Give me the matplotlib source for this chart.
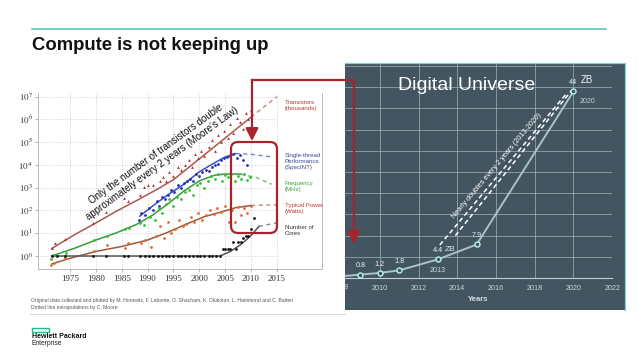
import numpy as np
import matplotlib
matplotlib.use("Agg")
import matplotlib.pyplot as plt
from matplotlib.patches import FancyBboxPatch, FancyArrowPatch, Rectangle
from matplotlib.lines import Line2D
from matplotlib.transforms import IdentityTransform, Bbox, TransformedBbox

plt.rcParams['font.family'] = ['Liberation Sans', 'DejaVu Sans']
plt.rcParams['mathtext.fontset'] = 'stix'

# ---------------- data : Moore's law chart (values as log10) ----------------
trans_yr = [1971.5, 1972.2, 1974.0, 1979.5, 1982.0, 1985.5, 1986.2, 1988.5, 1989.3, 1990.0,
            1991.0, 1992.4, 1993.0, 1993.5, 1994.2, 1995.0, 1995.8, 1996.5, 1997.3, 1998.0,
            1998.6, 1999.2, 1999.8, 2000.4, 2001.0, 2001.8, 2002.5, 2003.0, 2003.6, 2004.2,
            2004.8, 2005.5, 2006.0, 2006.6, 2007.2, 2007.8, 2008.4, 2009.0, 2009.5, 2010.0]
trans_lg = [0.35, 0.55, 0.75, 1.45, 1.95, 2.55, 2.4, 2.7, 3.05, 3.1,
            3.1, 3.3, 3.45, 3.3, 3.7, 3.5, 3.9, 3.8, 4.0, 4.2,
            3.9, 4.5, 4.3, 4.6, 4.4, 4.8, 5.1, 4.6, 5.3, 5.0,
            5.5, 5.2, 5.8, 5.4, 6.05, 5.9, 5.6, 6.3, 6.0, 6.4]

spec_yr = [1988.3, 1988.8, 1989.5, 1990.2, 1991.0, 1991.8, 1992.3, 1992.8, 1993.4, 1994.0,
           1994.6, 1995.2, 1995.8, 1996.4, 1997.0, 1997.6, 1998.2, 1998.8, 1999.4, 2000.0,
           2000.6, 2001.2, 2001.8, 2002.4, 2003.0, 2003.6, 2004.2, 2004.8, 2005.4, 2006.0,
           2006.6, 2007.2, 2007.8, 2008.5, 2009.2]
spec_lg = [1.6, 1.9, 1.8, 2.1, 2.0, 2.4, 2.2, 2.6, 2.5, 2.7,
           2.9, 2.8, 3.1, 3.0, 3.2, 3.3, 3.4, 3.3, 3.6, 3.5,
           3.7, 3.8, 3.75, 3.9, 4.0, 4.05, 4.2, 4.3, 4.35, 4.4,
           4.5, 4.3, 4.45, 4.2, 4.0]

freq_yr = [1971.3, 1971.8, 1974.2, 1979.6, 1982.2, 1985.6, 1986.4, 1988.6, 1989.4, 1990.4,
           1991.5, 1992.2, 1992.8, 1993.5, 1994.2, 1995.0, 1995.7, 1996.5, 1997.2, 1998.0,
           1998.7, 1999.5, 2000.2, 2000.9, 2001.6, 2002.3, 2003.0, 2003.7, 2004.4, 2005.0,
           2005.6, 2006.2, 2006.8, 2007.4, 2008.0, 2008.6, 2009.2, 2009.8]
freq_lg = [-0.15, 0.05, 0.15, 0.72, 0.9, 1.2, 1.22, 1.45, 1.35, 1.7,
           1.6, 2.1, 1.9, 2.3, 2.5, 2.2, 2.6, 2.5, 2.8, 2.9,
           2.7, 3.1, 3.2, 3.0, 3.3, 3.5, 3.4, 3.6, 3.3, 3.55,
           3.45, 3.6, 3.3, 3.5, 3.4, 3.6, 3.35, 3.45]

power_yr = [1971.4, 1972.0, 1974.1, 1979.7, 1982.1, 1985.7, 1986.3, 1988.7, 1989.6, 1990.6,
            1991.6, 1992.4, 1993.2, 1993.9, 1994.5, 1995.3, 1996.0, 1996.8, 1997.5, 1998.3,
            1999.0, 1999.8, 2000.5, 2001.2, 2002.0, 2002.8, 2003.5, 2004.2, 2005.0, 2005.7,
            2006.4, 2006.9, 2007.5, 2008.1, 2008.7, 2009.3, 2009.9]
power_lg = [-0.4, -0.3, -0.1, 0.2, 0.5, 0.35, 0.55, 0.55, 0.7, 0.4,
            0.9, 1.3, 0.8, 1.5, 1.0, 1.2, 1.6, 1.3, 1.4, 1.7,
            1.5, 1.9, 1.6, 1.8, 2.0, 1.85, 2.1, 1.95, 2.2, 1.5,
            2.0, 1.5, 2.15, 1.8, 2.1, 1.9, 2.2]

cores_yr = [1971.5, 1972.5, 1974.0, 1979.5, 1982.0, 1985.5, 1986.2, 1988.5, 1989.5, 1990.3,
            1991.0, 1992.0, 1992.7, 1993.5, 1994.2, 1995.0, 1995.8, 1996.5, 1997.3, 1998.0,
            1998.8, 1999.5, 2000.2, 2001.0, 2001.8, 2002.5, 2003.3, 2004.0, 2004.5, 2005.0,
            2005.5, 2006.0, 2006.5, 2007.0, 2007.5, 2008.0, 2008.5, 2009.0, 2009.5, 2010.0, 2010.5]
cores_lg = [0, 0, 0, 0, 0, 0, 0, 0, 0, 0,
            0, 0, 0, 0, 0, 0, 0, 0, 0, 0,
            0, 0, 0, 0, 0, 0, 0, 0, 0.3, 0.3,
            0.3, 0.3, 0.6, 0.3, 0.6, 0.6, 0.78, 0.9, 0.9, 1.2, 1.65]

# trend lines (solid part, then dotted extrapolation)
t_fit_yr = [1971.5, 1976, 1980, 1984, 1988, 1992, 1995, 1998, 2001, 2004, 2007, 2010]
t_fit_lg = [0.33, 0.95, 1.45, 1.97, 2.45, 2.95, 3.35, 3.9, 4.45, 5.0, 5.55, 6.1]
t_ext_yr, t_ext_lg = [2010, 2015], [6.1, 7.0]
s_fit_yr = [1988.5, 1991, 1994, 1997, 2000, 2003, 2005, 2007]
s_fit_lg = [1.75, 2.2, 2.7, 3.15, 3.7, 4.1, 4.35, 4.5]
s_ext_yr, s_ext_lg = [2007, 2010, 2014], [4.5, 4.47, 4.35]
f_fit_yr = [1971.5, 1976, 1980, 1984, 1988, 1991, 1994, 1997, 2000, 2003, 2005, 2008]
f_fit_lg = [0.0, 0.35, 0.7, 1.02, 1.4, 1.8, 2.3, 2.85, 3.3, 3.55, 3.6, 3.6]
f_ext_yr, f_ext_lg = [2008, 2011, 2014], [3.6, 3.45, 3.15]
p_fit_yr = [1971.5, 1975, 1980, 1985, 1990, 1994, 1998, 2001, 2004, 2007, 2010]
p_fit_lg = [-0.35, -0.1, 0.2, 0.42, 0.7, 1.05, 1.45, 1.73, 1.92, 2.12, 2.22]
p_ext_yr, p_ext_lg = [2010, 2015], [2.22, 2.25]
c_fit_yr = [1971.5, 2004, 2006, 2008, 2010, 2011.5]
c_fit_lg = [0, 0, 0.2, 0.5, 0.9, 1.3]
c_ext_yr, c_ext_lg = [2011.5, 2015], [1.3, 1.46]

# ---------------- data : Digital Universe ----------------
du_years = [2008, 2009, 2010, 2011, 2013, 2015, 2020]
du_zb = [0.4, 0.8, 1.2, 1.8, 4.4, 7.9, 44]
du_labels = ['', '0.8', '1.2', '1.8', '4.4', '7.9', '44']
proj1_x, proj1_y = [2013.1, 2019.66], [7.8, 43.6]
proj2_x, proj2_y = [2013.9, 2019.9], [10.0, 44.2]

W, H = 638, 359
fig = plt.figure(figsize=(W / 100, H / 100), dpi=100)
fig.patch.set_facecolor('white')
T = IdentityTransform()


def P(x, y):
    return (x, H - y)


def box(l, t, r, b):
    return [l / W, 1 - b / H, (r - l) / W, (b - t) / H]


# title + rule
fig.add_artist(Line2D([32, 606], [H - 28.5, H - 28.5], transform=T, color='#4cc2b6', lw=1.1))
fig.text(32, H - 50.5, 'Compute is not keeping up', transform=T, fontsize=13.3,
         fontweight='bold', color='#111111', va='baseline', ha='left')

# ---------------- left chart ----------------
ax1 = fig.add_axes(box(38.3, 93, 322, 269))
ax1.set_yscale('log')
ax1.set_xlim(1968.9, 2023.7)
ax1.set_ylim(10 ** -0.57, 10 ** 7.16)

for k in range(0, 8):
    ax1.hlines(10 ** k, 1968.9, 2015, colors='#c8c8c8', linestyles=':', lw=0.6, zorder=0)
for yr in range(1975, 2016, 5):
    ax1.vlines(yr, 10 ** -0.57, 10 ** 7.16, colors='#c8c8c8', linestyles=':', lw=0.6, zorder=0)


def tenp(a):
    return 10 ** np.array(a, dtype=float)


series = [
    (trans_yr, trans_lg, '#b52a25', '^', t_fit_yr, t_fit_lg, t_ext_yr, t_ext_lg, '#a65a50'),
    (spec_yr, spec_lg, '#2430b0', 'o', s_fit_yr, s_fit_lg, s_ext_yr, s_ext_lg, '#3850c8'),
    (freq_yr, freq_lg, '#30c030', 'o', f_fit_yr, f_fit_lg, f_ext_yr, f_ext_lg, '#3a9a3a'),
    (power_yr, power_lg, '#dc6a30', 'o', p_fit_yr, p_fit_lg, p_ext_yr, p_ext_lg, '#9c5a3c'),
    (cores_yr, cores_lg, '#111111', 'o', c_fit_yr, c_fit_lg, c_ext_yr, c_ext_lg, '#555555'),
]
for xs, ys, col, mk, fx, fy, ex, ey, lc in series:
    ax1.plot(fx, tenp(fy), color=lc, lw=1.1, zorder=2)
    ax1.plot(ex, tenp(ey), color=lc, lw=1.0, ls=(0, (3, 2.5)), alpha=0.7, zorder=2)
    ax1.scatter(xs, tenp(ys), s=4, marker=mk, color=col, lw=0, zorder=3)

ax1.set_xticks(range(1975, 2016, 5))
ax1.set_yticks([10 ** k for k in range(8)])
ax1.set_yticklabels([r'$10^{%d}$' % k for k in range(8)])
ax1.yaxis.set_minor_locator(matplotlib.ticker.NullLocator())
ax1.tick_params(labelsize=6.5, length=2, width=0.5, color='#999999', pad=2, labelcolor='#333333')
for lab in ax1.get_xticklabels():
    lab.set_fontfamily('Liberation Serif')
ax1.spines['top'].set_visible(False)
for s in ['left', 'bottom', 'right']:
    ax1.spines[s].set_color('#b0b0b0')
    ax1.spines[s].set_linewidth(0.6)

legend_items = [
    ('Transistors\n(thousands)', 6.62, '#b03a2e'),
    ('Single-thread\nPerformance\n(SpecINT)', 4.17, '#3b4a8c'),
    ('Frequency\n(MHz)', 3.06, '#3aa040'),
    ('Typical Power\n(Watts)', 2.07, '#c0392b'),
    ('Number of\nCores', 1.11, '#333333'),
]
for txt, lg, col in legend_items:
    ax1.text(2016.5, 10 ** lg, txt, fontsize=4.4, color=col, va='center', ha='left',
             linespacing=1.25)

# diagonal note
fig.text(159, H - 159, "Only the number of transistors double\napproximately every 2 years (Moore's Law)",
         transform=T, fontsize=7, rotation=36, rotation_mode='anchor', ha='center',
         va='center', linespacing=1.2, color='#111111', zorder=6)

# caption
fig.text(31, H - 300.7, 'Original data collected and plotted by M. Horowitz, F. Labonte, O. Shacham, '
         'K. Olukotun, L. Hammond and C. Batten', transform=T, fontsize=3.6, color='#555555',
         va='center')
fig.text(31, H - 307, 'Dotted line extrapolations by C. Moore', transform=T, fontsize=3.6,
         color='#555555', va='center')
fig.add_artist(Line2D([30, 345], [H - 313.5, H - 313.5], transform=T, color='#dddddd', lw=0.8))

# ---------------- right panel ----------------
panel = Rectangle(P(345, 310), 625 - 345, 310 - 63, transform=T, facecolor='#435561',
                  edgecolor='none', zorder=-1)
fig.add_artist(panel)
fig.add_artist(Line2D([345, 625, 625], [H - 63, H - 63, H - 310], transform=T,
                      color='#7fd4d2', lw=0.9, zorder=1))

ax2 = fig.add_axes(box(345, 63, 612.2, 278))
ax2.set_zorder(1)
ax2.patch.set_alpha(0)
ax2.set_xlim(2008.2, 2022)
ax2.set_ylim(0, 50.7)
ax2.set_xticks(range(2010, 2023, 2))
ax2.set_yticks(range(5, 51, 5))
ax2.set_yticklabels([])
ax2.grid(True, color='#aab6bd', lw=0.6, alpha=0.8)
ax2.set_axisbelow(True)
for s in ['top', 'right', 'left']:
    ax2.spines[s].set_visible(False)
ax2.spines['bottom'].set_color('#c5d0d5')
ax2.spines['bottom'].set_linewidth(0.8)
ax2.tick_params(axis='x', length=0, labelsize=5.2, labelcolor='#cdd6db', pad=5)
ax2.tick_params(axis='y', length=0)
ax2.set_xlabel('Years', fontsize=5.5, fontweight='bold', color='#d5dde1', labelpad=3)
t08 = ax2.text(2008, -2.35, '2008', fontsize=5.2, color='#cdd6db', ha='center', va='center',
               transform=ax2.transData)
t08.set_clip_on(True)
t08.set_clip_box(TransformedBbox(Bbox.from_extents(345, 0, 625, H), T))

ax2.plot(proj1_x, proj1_y, color='white', lw=1.1, ls=(0, (3, 2)), zorder=3)
ax2.plot(proj2_x, proj2_y, color='white', lw=1.1, ls=(0, (3, 2)), zorder=3)
ax2.plot(du_years, du_zb, color='#a9c4c6', lw=1.4, marker='o', ms=3.6, mfc='#435561',
         mec='#b9f3f3', mew=1, markevery=list(range(1, len(du_years))), zorder=4)

for x, v, lab in zip(du_years, du_zb, du_labels):
    if lab:
        ax2.annotate(lab, (x, v), xytext=(0, 6.3), textcoords='offset points', ha='center',
                     va='center', fontsize=5.2, color='#eef3f5')
ax2.annotate('ZB', (2013, 4.4), xytext=(8.5, 7.2), textcoords='offset points', ha='center',
             va='center', fontsize=6, color='#dfe6ea')
ax2.annotate('2013', (2013, 4.4), xytext=(0, -8), textcoords='offset points', ha='center',
             va='center', fontsize=5.2, color='#cdd6db')
ax2.annotate('ZB', (2020, 44), xytext=(10, 8), textcoords='offset points', ha='center',
             va='center', fontsize=7, color='#eef3f5')
ax2.annotate('2020', (2020, 44), xytext=(9.8, -7.2), textcoords='offset points', ha='center',
             va='center', fontsize=5, color='#cdd6db')

ax2.text(2010.93, 45.5, 'Digital Universe', fontsize=14, color='white', ha='left', va='center')
ax2.text(2016.05, 26.4, 'Nearly doubles every 2 years (2013-2020)', fontsize=5.2, color='white',
         rotation=50, rotation_mode='anchor', ha='center', va='center')

# ---------------- red highlight + arrow ----------------
red = '#a8232a'
fig.add_artist(FancyBboxPatch(P(231, 233), 46, 91, boxstyle='round,pad=0,rounding_size=7',
                              transform=T, fill=False, ec=red, lw=1.6, zorder=10))
fig.add_artist(Line2D([252, 354], [H - 80, H - 80], transform=T, color=red, lw=1.6, zorder=10))
for x0, y1 in [(252, 141), (354, 244)]:
    fig.add_artist(FancyArrowPatch(P(x0, 80), P(x0, y1), transform=T, color=red, lw=1.6,
                                   arrowstyle='-|>,head_length=0.75,head_width=0.38',
                                   mutation_scale=10, shrinkA=0, shrinkB=0, zorder=10))

# ---------------- HPE logo ----------------
fig.add_artist(Rectangle(P(32, 331.5), 17, 4, transform=T, fill=False, ec='#2bb596', lw=1))
fig.text(31.5, H - 337, 'Hewlett Packard', transform=T, fontsize=5, fontweight='bold',
         color='#111111', va='center')
fig.text(31.5, H - 343.7, 'Enterprise', transform=T, fontsize=4.8, color='#222222', va='center')

fig.savefig('out.png', dpi=100)
